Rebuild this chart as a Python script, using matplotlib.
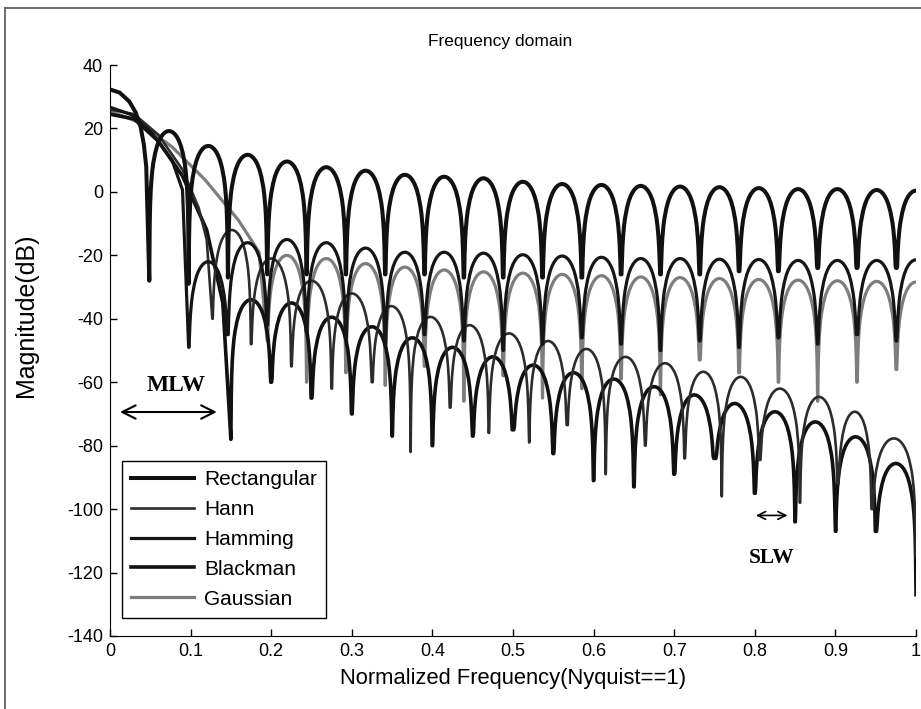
import numpy as np
import matplotlib
matplotlib.use('Agg')
import matplotlib.pyplot as plt
from matplotlib.lines import Line2D

plt.rcParams['font.family'] = ['Liberation Sans', 'DejaVu Sans']
plt.rcParams['axes.unicode_minus'] = False

# Shape of one side lobe (fraction across lobe, dB below the lobe peak)
lobe_t = [0.0, 0.005, 0.01, 0.02, 0.035, 0.05, 0.075, 0.1, 0.15, 0.2, 0.25, 0.3, 0.35, 0.4, 0.45, 0.5]
lobe_drop = [-99, -36, -30, -24, -19.2, -16.1, -12.6, -10.2, -6.9, -4.6, -3.0, -1.84, -1.0, -0.44, -0.11, 0.0]

# Rectangular
rect_main_x = [0.0, 0.012, 0.024, 0.032, 0.038, 0.042, 0.045]
rect_main_db = [32.3, 31.3, 28.5, 25.0, 20.5, 15.0, 8.0]
rect_null_x = [0.0488, 0.0976, 0.1463, 0.1951, 0.2439, 0.2927, 0.3415, 0.3902, 0.4390, 0.4878,
               0.5366, 0.5854, 0.6341, 0.6829, 0.7317, 0.7805, 0.8293, 0.8780, 0.9268, 0.9756, 1.0244]
rect_null_db = [-28, -29, -27, -26, -26, -26, -26, -26, -27, -27,
                -27, -27, -26, -26, -26, -25, -25, -24, -24, -24, -24]
rect_peak_db = [19.2, 14.5, 11.7, 9.6, 7.8, 6.7, 5.4, 4.8, 4.3, 3.2,
                2.5, 2.2, 1.9, 1.7, 1.5, 1.2, 0.9, 0.9, 0.6, 0.4]

# Hann
hann_main_x = [0.0, 0.03, 0.06, 0.09, 0.11, 0.12]
hann_main_db = [26.0, 24.5, 18.0, 7.0, -5.0, -15.0]
hann_null_x = [0.127, 0.175, 0.225, 0.275, 0.325, 0.373, 0.422, 0.470, 0.520, 0.567,
               0.615, 0.664, 0.713, 0.759, 0.806, 0.856, 0.903, 0.945, 1.0]
hann_null_db = [-40, -48, -55, -62, -60, -82, -68, -76, -79, -73.5,
                -89, -80, -84, -96, -84.5, -98, -92, -100, -115]
hann_peak_db = [-12, -21, -28, -32, -36, -39.4, -42, -44.6, -47, -49.5,
                -52, -54, -56.7, -58.3, -62, -64.6, -69.3, -77.7]

# Hamming
hamm_main_x = [0.0, 0.027, 0.052, 0.077, 0.090]
hamm_main_db = [26.7, 24.3, 18.6, 10.0, 0.6]
hamm_null_x = rect_null_x[1:]
hamm_null_db = [-49, -45, -42, -44, -46, -48, -45, -47, -50, -48,
                -46, -48, -50, -47, -49, -46, -48, -45, -47, -47]
hamm_peak_db = [-22, -16, -15, -16, -17.7, -19, -19, -19.3, -19.8, -20.2,
                -20.6, -21, -21, -21.2, -21.3, -21.6, -21.6, -21.6, -21.4]

# Blackman
black_main_x = [0.0, 0.03, 0.06, 0.09, 0.12, 0.14]
black_main_db = [24.5, 23.0, 16.0, 5.0, -12.0, -35.0]
black_null_x = [0.15, 0.20, 0.25, 0.30, 0.35, 0.40, 0.45, 0.50, 0.55, 0.60,
                0.65, 0.70, 0.75, 0.80, 0.85, 0.90, 0.95, 1.0]
black_null_db = [-78, -60, -65, -70, -77, -80, -77, -75, -82.5, -91,
                 -93, -89, -84, -95, -104, -107, -107, -127]
black_peak_db = [-34, -35, -39.5, -42.5, -46, -49, -52, -54.6, -57, -59,
                 -61.4, -64, -66.7, -69.3, -72.5, -77.2, -85.6]

# Gaussian
gauss_main_x = [0.0, 0.035, 0.077, 0.118, 0.159, 0.185]
gauss_main_db = [25.5, 22.0, 14.2, 3.8, -8.8, -19.0]
gauss_null_x = rect_null_x[3:]
gauss_null_db = [-47, -60, -57, -61, -55, -66, -58, -65, -62, -59,
                 -64, -53, -57, -60, -66, -60, -56, -56]
gauss_peak_db = [-20, -21, -22.6, -23.7, -24.6, -25.2, -25.6, -26, -26.4, -26.8,
                 -27, -27.3, -27.6, -27.8, -28, -28.2, -28.4]


def build_curve(main_x, main_db, null_x, null_db, peak_db):
    t = np.array(lobe_t)
    d = np.array(lobe_drop)
    xs = list(main_x)
    ys = list(main_db)
    for i in range(len(peak_db)):
        xa, xb = null_x[i], null_x[i + 1]
        da, db = null_db[i], null_db[i + 1]
        p = peak_db[i]
        left = np.maximum(p + d, da)
        left[0] = da
        right = np.maximum(p + d[::-1], db)
        right[-1] = db
        xl = xa + t * (xb - xa)
        xr = xb - t[::-1] * (xb - xa)
        xs += list(xl) + list(xr[1:])
        ys += list(left) + list(right[1:])
    return np.array(xs), np.array(ys)


fig = plt.figure(figsize=(9.21, 7.09), dpi=100)
ax = fig.add_axes([0.1194, 0.103, 0.8752, 0.8053])

series = [
    ('Rectangular', rect_main_x, rect_main_db, rect_null_x, rect_null_db, rect_peak_db, '#111111', 2.9, 6),
    ('Hann', hann_main_x, hann_main_db, hann_null_x, hann_null_db, hann_peak_db, '#2c2c2c', 1.9, 4),
    ('Hamming', hamm_main_x, hamm_main_db, hamm_null_x, hamm_null_db, hamm_peak_db, '#151515', 2.3, 5),
    ('Blackman', black_main_x, black_main_db, black_null_x, black_null_db, black_peak_db, '#111111', 2.6, 3),
    ('Gaussian', gauss_main_x, gauss_main_db, gauss_null_x, gauss_null_db, gauss_peak_db, '#7d7d7d', 2.3, 2),
]
for name, mx, mdb, nx, ndb, pdb, col, lw, z in series:
    x, y = build_curve(mx, mdb, nx, ndb, pdb)
    ax.plot(x, y, color=col, linewidth=lw, label=name, zorder=z)

ax.set_xlim(0, 1)
ax.set_ylim(-140, 40)
ax.set_xticks(np.arange(0, 1.01, 0.1))
ax.set_xticklabels(['0', '0.1', '0.2', '0.3', '0.4', '0.5', '0.6', '0.7', '0.8', '0.9', '1'])
ax.set_yticks(np.arange(-140, 41, 20))
ax.tick_params(direction='in', length=5, labelsize=13, width=1, pad=5)
ax.spines['top'].set_visible(False)
ax.spines['right'].set_visible(False)
ax.set_title('Frequency domain', fontsize=12.5, pad=14, x=0.484)
ax.set_xlabel('Normalized Frequency(Nyquist==1)', fontsize=15.8, labelpad=6)
ax.set_ylabel('Magnitude(dB)', fontsize=18)
ax.yaxis.set_label_coords(-0.0893, 0.562)

leg = ax.legend(loc='lower left', bbox_to_anchor=(0.0149, 0.0315), borderaxespad=0, fontsize=15,
                handlelength=3.0, fancybox=False, edgecolor='black', framealpha=1, borderpad=0.45,
                labelspacing=0.52, handletextpad=0.48)
leg.get_frame().set_linewidth(1.0)

# MLW / SLW annotations
ax.annotate('', xy=(0.009, -69.4), xytext=(0.136, -69.4),
            arrowprops=dict(arrowstyle='<->', color='black', lw=1.5, mutation_scale=24))
ax.text(0.082, -61, 'MLW', fontfamily='Liberation Serif', fontweight='bold', fontsize=16.8,
        ha='center', va='center')
ax.annotate('', xy=(0.798, -102), xytext=(0.844, -102),
            arrowprops=dict(arrowstyle='<->', color='black', lw=1.2, mutation_scale=14))
ax.text(0.821, -115.5, 'SLW', fontfamily='Liberation Serif', fontweight='bold', fontsize=15.5,
        ha='center', va='center')

# scan frame lines
fig.add_artist(Line2D([5 / 921, 1], [1 - 8 / 709, 1 - 8 / 709], color='#555555', lw=1.2))
fig.add_artist(Line2D([5 / 921, 5 / 921], [0, 1 - 8 / 709], color='#555555', lw=1.2))

fig.savefig('out.png', dpi=100)
